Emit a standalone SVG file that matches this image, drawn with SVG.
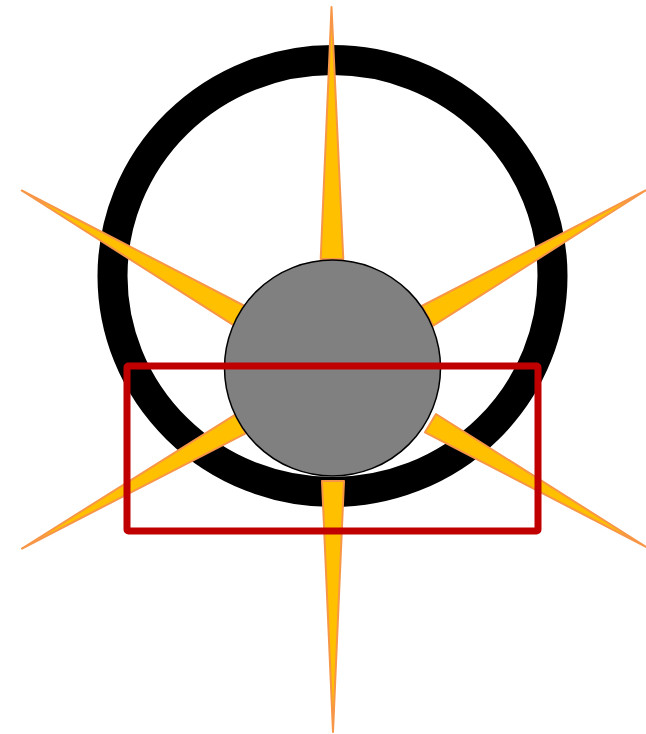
<svg xmlns="http://www.w3.org/2000/svg" width="646" height="734" viewBox="0 0 646 734">
<style>
.ring{fill:none;stroke:#000;stroke-width:30}
.spike{fill:#ffc000;stroke:#f79646;stroke-width:2;stroke-linejoin:round}
.hub{fill:#808080;stroke:#000;stroke-width:1.5}
.frame{fill:none;stroke:#c00000;stroke-width:7;stroke-linejoin:round}
</style>
<rect width="646" height="734" fill="#fff"/>
<g id="ring"><ellipse class="ring" cx="332.5" cy="276" rx="220" ry="216"/></g>
<g id="spikes">
<polygon class="spike" points="320.7,259 343.3,259 331.5,7"/>
<polygon class="spike" points="322,481 344,481 333,732"/>
<polygon class="spike" points="245.7,306.5 234.3,325.7 21.7,190.5"/>
<polygon class="spike" points="421.7,306 433.3,325.7 645.5,190.5"/>
<polygon class="spike" points="235.7,414.3 245.7,433.3 22,548.5"/>
<polygon class="spike" points="436,414 425,432.3 647,547.5"/>
</g>
<g id="hub"><circle class="hub" cx="332.5" cy="368" r="108"/></g>
<g id="frame"><rect class="frame" x="127" y="366" width="411" height="165" rx="1.5"/></g>
</svg>
